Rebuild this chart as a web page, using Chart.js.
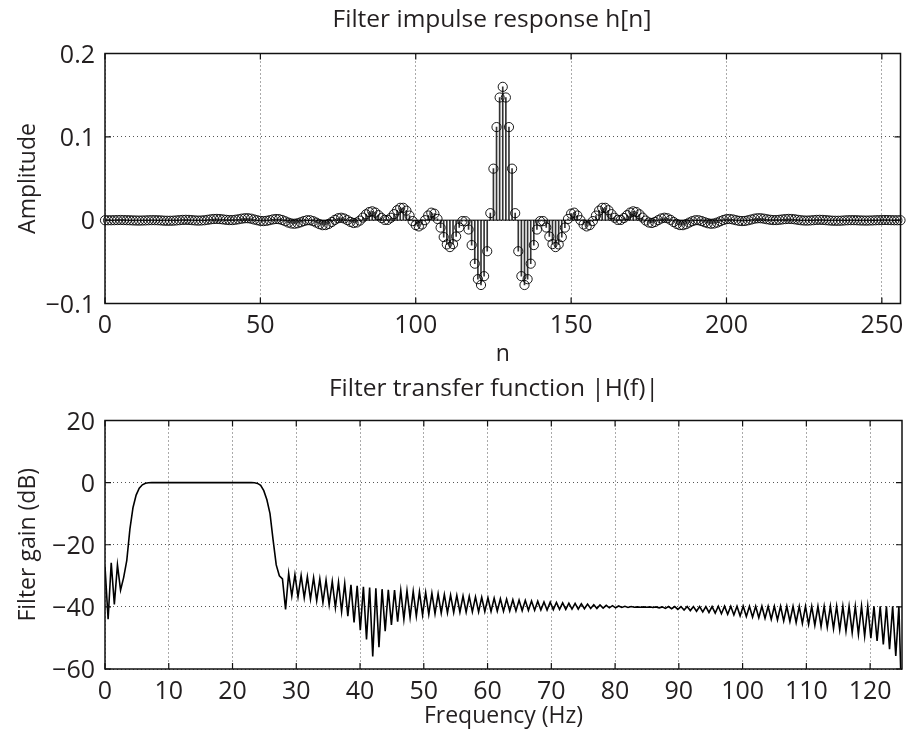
<!DOCTYPE html>
<html>
<head>
<meta charset="utf-8">
<title>Filter impulse response / transfer function</title>
<script src="https://cdn.jsdelivr.net/npm/chart.js@4.4.1/dist/chart.umd.min.js"></script>
<style>
  html, body { margin: 0; padding: 0; background: #fff; }
  #wrap { position: relative; width: 906px; height: 736px; }
  canvas { position: absolute; left: 0; }
  #cTop { top: 0; }
  #cBottom { top: 368px; }
</style>
</head>
<body>
<div id="wrap">
  <canvas id="cTop" width="906" height="368"></canvas>
  <canvas id="cBottom" width="906" height="368"></canvas>
</div>
<script>
// DATA
// h[n], n = 0 .. 256
const impulse = [
  -0.0001, -0.0001, -0.0001, 0, 0.0001, 0.0002, 0.0001, 0, -0.0001, -0.0003,
  -0.0004, -0.0005, -0.0004, -0.0003, -0.0001, 0, 0, -0.0001, -0.0003, -0.0006,
  -0.0007, -0.0007, -0.0006, -0.0003, 0, 0.0003, 0.0004, 0.0003, 0, -0.0003,
  -0.0005, -0.0004, -0.0001, 0.0004, 0.0010, 0.0014, 0.0015, 0.0013, 0.0009, 0.0004,
  0.0001, 0.0001, 0.0005, 0.0011, 0.0018, 0.0023, 0.0023, 0.0018, 0.0008, -0.0001,
  -0.0009, -0.0011, -0.0008, 0, 0.0009, 0.0014, 0.0012, 0.0002, -0.0013, -0.0029,
  -0.0040, -0.0043, -0.0037, -0.0025, -0.0011, -0.0001, -0.0001, -0.0012, -0.0029, -0.0048,
  -0.0060, -0.0059, -0.0045, -0.0022, 0.0004, 0.0023, 0.0029, 0.0020, 0, -0.0021,
  -0.0034, -0.0028, -0.0005, 0.0031, 0.0070, 0.0097, 0.0106, 0.0091, 0.0060, 0.0026,
  0.0003, 0.0003, 0.0029, 0.0072, 0.0119, 0.0148, 0.0148, 0.0114, 0.0055, -0.0011,
  -0.0059, -0.0075, -0.0052, 0, 0.0056, 0.0090, 0.0078, 0.0015, -0.0089, -0.0203,
  -0.0291, -0.0323, -0.0287, -0.0196, -0.0088, -0.0011, -0.0012, -0.0112, -0.0299, -0.0522,
  -0.0708, -0.0778, -0.0672, -0.0373, 0.0084, 0.0618, 0.1117, 0.1472,
  0.16,
  0.1472, 0.1117, 0.0618, 0.0084, -0.0373, -0.0672, -0.0778, -0.0708, -0.0522, -0.0299,
  -0.0112, -0.0012, -0.0011, -0.0088, -0.0196, -0.0287, -0.0323, -0.0291, -0.0203, -0.0089,
  0.0015, 0.0078, 0.0090, 0.0056, 0, -0.0052, -0.0075, -0.0059, -0.0011, 0.0055,
  0.0114, 0.0148, 0.0148, 0.0119, 0.0072, 0.0029, 0.0003, 0.0003, 0.0026, 0.0060,
  0.0091, 0.0106, 0.0097, 0.0070, 0.0031, -0.0005, -0.0028, -0.0034, -0.0021, 0,
  0.0020, 0.0029, 0.0023, 0.0004, -0.0022, -0.0045, -0.0059, -0.0060, -0.0048, -0.0029,
  -0.0012, -0.0001, -0.0001, -0.0011, -0.0025, -0.0037, -0.0043, -0.0040, -0.0029, -0.0013,
  0.0002, 0.0012, 0.0014, 0.0009, 0, -0.0008, -0.0011, -0.0009, -0.0001, 0.0008,
  0.0018, 0.0023, 0.0023, 0.0018, 0.0011, 0.0005, 0.0001, 0.0001, 0.0004, 0.0009,
  0.0013, 0.0015, 0.0014, 0.0010, 0.0004, -0.0001, -0.0004, -0.0005, -0.0003, 0,
  0.0003, 0.0004, 0.0003, 0, -0.0003, -0.0006, -0.0007, -0.0007, -0.0006, -0.0003,
  -0.0001, 0, 0, -0.0001, -0.0003, -0.0004, -0.0005, -0.0004, -0.0003, -0.0001,
  0, 0.0001, 0.0002, 0.0001, 0, -0.0001, -0.0001, -0.0001
];

// |H(f)| in dB, one value every 125/256 Hz from 0 to 125 Hz
const freqStep = 125 / 256;
const gainDb = [
  -27.0, -44.0, -25.8, -39.2, -26.5, -34.6, -30.5, -25.0, -15.0, -8.0,
  -4.0, -1.8, -0.7, -0.2, -0.05, 0, 0, 0, 0, 0,
  0, 0, 0, 0, 0, 0, 0, 0, 0, 0,
  0, 0, 0, 0, 0, 0, 0, 0, 0, 0,
  0, 0, 0, 0, 0, 0, 0, 0, -0.05, -0.25,
  -0.9, -2.6, -5.5, -10.0, -18.5, -26.5, -30.0, -31.0, -40.8, -29.2,
  -36.5, -29.6, -36.8, -29.9, -37.1, -30.3, -37.5, -30.6, -38.0, -31.0,
  -38.6, -31.4, -39.3, -31.8, -40.2, -32.1, -41.5, -32.5, -43.0, -32.9,
  -45.0, -33.2, -47.5, -33.5, -50.5, -33.8, -56.0, -34.0, -53.0, -34.3,
  -47.8, -34.5, -45.8, -34.6, -44.8, -34.7, -44.0, -34.8, -43.4, -35.0,
  -43.0, -35.2, -42.6, -35.4, -42.4, -35.6, -42.2, -35.8, -42.0, -36.0,
  -41.9, -36.2, -41.8, -36.3, -41.7, -36.5, -41.7, -36.6, -41.6, -36.8,
  -41.6, -36.9, -41.5, -37.1, -41.5, -37.2, -41.4, -37.4, -41.4, -37.5,
  -41.3, -37.7, -41.3, -37.8, -41.2, -37.9, -41.1, -38.1, -41.1, -38.2,
  -41.0, -38.4, -41.0, -38.5, -40.9, -38.6, -40.8, -38.7, -40.8, -38.8,
  -40.7, -38.9, -40.7, -39.0, -40.6, -39.1, -40.5, -39.3, -40.5, -39.4,
  -40.4, -39.5, -40.3, -39.6, -40.3, -39.7, -40.2, -39.8, -40.2, -39.9,
  -40.1, -40.0, -40.1, -40.0, -40.1, -40.0, -40.2, -40.0, -40.3, -40.0,
  -40.5, -39.9, -40.6, -39.9, -40.8, -39.9, -41.0, -39.9, -41.2, -39.9,
  -41.4, -39.9, -41.6, -39.9, -41.8, -39.9, -42.0, -39.8, -42.2, -39.8,
  -42.4, -39.8, -42.6, -39.8, -42.9, -39.8, -43.1, -39.8, -43.3, -39.8,
  -43.5, -39.8, -43.7, -39.8, -44.0, -39.8, -44.2, -39.8, -44.5, -39.8,
  -44.7, -39.8, -45.0, -39.8, -45.3, -39.8, -45.6, -39.8, -45.9, -39.8,
  -46.3, -39.8, -46.6, -39.8, -47.0, -39.8, -47.4, -39.8, -47.8, -39.8,
  -48.3, -39.8, -48.8, -39.8, -49.4, -39.8, -50.1, -39.8, -51.0, -39.8,
  -52.1, -39.8, -53.6, -39.8, -55.8, -39.8, -75.0
];

// TICKS
const nTicks = [0, 50, 100, 150, 200, 250];
const ampTicks = [-0.1, 0, 0.1, 0.2];
const ampTickLabels = ["\u22120.1", "0", "0.1", "0.2"];
const freqTicks = [0, 10, 20, 30, 40, 50, 60, 70, 80, 90, 100, 110, 120];
const gainTicks = [-60, -40, -20, 0, 20];
const gainTickLabels = ["\u221260", "\u221240", "\u221220", "0", "20"];

// STYLE
const FONT = "'Open Sans', Lato, sans-serif";
const TEXT = "#231f20";
Chart.defaults.font.family = FONT;
Chart.defaults.color = TEXT;

// box round the plot area + ticks pointing inwards (matlab look)
const frame = {
  id: "frame",
  afterDatasetsDraw(chart) {
    const { ctx, chartArea: a, scales: { x, y } } = chart;
    const len = 6;
    ctx.save();
    ctx.strokeStyle = "#111";
    ctx.lineWidth = 1.2;
    ctx.beginPath();
    x.ticks.forEach(t => {
      const px = x.getPixelForValue(t.value);
      ctx.moveTo(px, a.bottom); ctx.lineTo(px, a.bottom - len);
      ctx.moveTo(px, a.top); ctx.lineTo(px, a.top + len);
    });
    y.ticks.forEach(t => {
      const py = y.getPixelForValue(t.value);
      ctx.moveTo(a.left, py); ctx.lineTo(a.left + len, py);
      ctx.moveTo(a.right, py); ctx.lineTo(a.right - len, py);
    });
    ctx.stroke();
    ctx.lineWidth = 1.5;
    ctx.strokeRect(a.left, a.top, a.right - a.left, a.bottom - a.top);
    ctx.restore();
  }
};

function xAxis(min, max, ticks, label, height, tickPad, titlePad) {
  return {
    type: "linear", min, max, offset: false,
    afterBuildTicks: s => { s.ticks = ticks.map(v => ({ value: v })); },
    afterFit: s => { s.height = height; s.paddingLeft = 0; s.paddingRight = 0; },
    grid: { color: "#555", lineWidth: 1, drawTicks: false, offset: false },
    border: { display: false, dash: [1, 3] },
    ticks: { font: { size: 25 }, color: TEXT, padding: tickPad, autoSkip: false, maxRotation: 0 },
    title: { display: true, text: label, font: { size: 23 }, color: TEXT, padding: { top: 0, bottom: titlePad } }
  };
}

function yAxis(min, max, ticks, labels, label) {
  return {
    type: "linear", min, max,
    afterBuildTicks: s => { s.ticks = ticks.map(v => ({ value: v })); },
    afterFit: s => { s.width = 105; s.paddingTop = 0; s.paddingBottom = 0; },
    grid: { color: "#555", lineWidth: 1, drawTicks: false },
    border: { display: false, dash: [1, 3] },
    ticks: {
      font: { size: 25 }, color: TEXT, padding: 10, autoSkip: false, labelOffset: 2,
      callback: (v, i) => labels[i]
    },
    title: { display: true, text: label, font: { size: 23 }, color: TEXT, padding: { top: 14.6, bottom: 0 } }
  };
}

// empty axis on the right: only takes room so the full-width title sits where the reference has it
function spacer(width) {
  return {
    type: "linear", position: "right", display: true,
    afterFit: s => { s.width = width; s.paddingTop = 0; s.paddingBottom = 0; },
    grid: { display: false }, border: { display: false }, ticks: { display: false }
  };
}

// TOP: impulse response (stem plot)
const stemPoints = impulse.map((v, n) => ({ x: n, y: v }));

new Chart(document.getElementById("cTop"), {
  type: "scatter",
  data: {
    datasets: [
      {
        type: "scatter", data: stemPoints, order: 0, clip: false,
        pointStyle: "circle", pointRadius: 4.6, pointBorderWidth: 0.9,
        pointBorderColor: "#000", pointBackgroundColor: "rgba(0,0,0,0)"
      },
      {
        type: "bar", data: stemPoints, order: 1,
        backgroundColor: "rgba(0,0,0,0.8)", barThickness: 1
      },
      {
        type: "line", data: [{ x: 0, y: 0 }, { x: 256, y: 0 }], order: 2,
        borderColor: "#000", borderWidth: 1, pointRadius: 0
      }
    ]
  },
  options: {
    responsive: false, animation: false, events: [], devicePixelRatio: 1,
    layout: { padding: { left: 0, right: 4 - 82, top: 0, bottom: 0 } },
    plugins: {
      legend: { display: false }, tooltip: { enabled: false },
      title: {
        display: true, text: "Filter impulse response h[n]",
        font: { size: 24.5, weight: "normal" }, color: TEXT,
        padding: { top: 5.8, bottom: 18.3 }
      }
    },
    scales: {
      x: xAxis(0, 256, nTicks, "n", 64.5, 7.5, -0.5),
      y: yAxis(-0.1, 0.2, ampTicks, ampTickLabels, "Amplitude"),
      pad: spacer(82)
    }
  },
  plugins: [frame]
});

// BOTTOM: transfer function
const gainPoints = gainDb.map((v, k) => ({ x: k * freqStep, y: v }));

new Chart(document.getElementById("cBottom"), {
  type: "line",
  data: {
    datasets: [{
      data: gainPoints, borderColor: "#000", borderWidth: 1.6,
      pointRadius: 0, tension: 0
    }]
  },
  options: {
    responsive: false, animation: false, events: [], devicePixelRatio: 1,
    layout: { padding: { left: 0, right: 4 - 86, top: 0, bottom: 0 } },
    plugins: {
      legend: { display: false }, tooltip: { enabled: false },
      title: {
        display: true, text: "Filter transfer function |H(f)|",
        font: { size: 24.5, weight: "normal" }, color: TEXT,
        padding: { top: 6.8, bottom: 16.3 }
      }
    },
    scales: {
      x: xAxis(0, 125, freqTicks, "Frequency (Hz)", 67, 7.7, 5.5),
      y: yAxis(-60, 20, gainTicks, gainTickLabels, "Filter gain (dB)"),
      pad: spacer(86)
    }
  },
  plugins: [frame]
});
</script>
</body>
</html>
